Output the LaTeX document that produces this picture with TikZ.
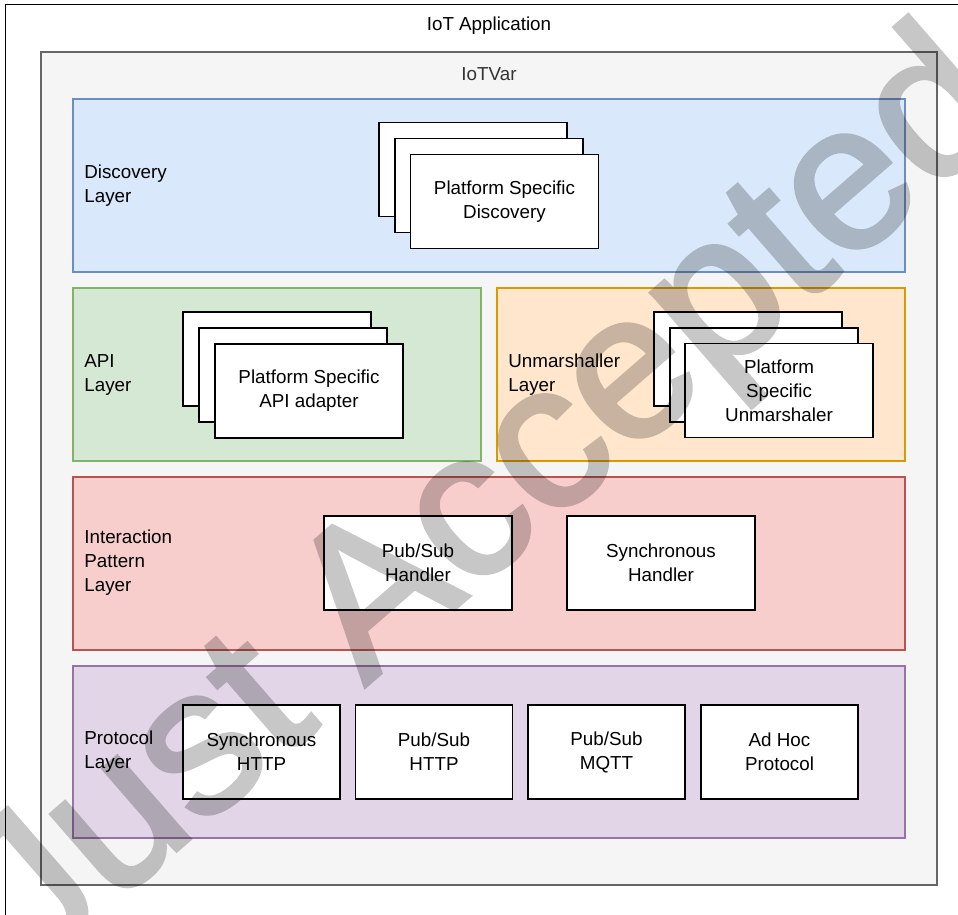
\documentclass[tikz,border=0pt]{standalone}
\usepackage{fontspec}
\setmainfont{Liberation Sans}
\definecolor{varfill}{HTML}{F5F5F5}
\definecolor{varline}{HTML}{666666}
\definecolor{discfill}{HTML}{DAE8FC}
\definecolor{discline}{HTML}{6C8EBF}
\definecolor{apifill}{HTML}{D5E8D4}
\definecolor{apiline}{HTML}{82B366}
\definecolor{unmfill}{HTML}{FFE6CC}
\definecolor{unmline}{HTML}{D79B00}
\definecolor{intfill}{HTML}{F8CECC}
\definecolor{intline}{HTML}{B85450}
\definecolor{profill}{HTML}{E1D5E7}
\definecolor{proline}{HTML}{9673A6}
\tikzset{
  layer/.style={line width=0.8pt, minimum height=173*\u},
  card/.style={draw=black, fill=white, line width=1.1pt, minimum width=188*\u, minimum height=94*\u, align=center},
  lbl/.style={anchor=west, align=left},
}

\begin{document}
\begin{tikzpicture}[x=0.02cm, y=-0.02cm, inner sep=0pt, font=\fontsize{10.7}{13.7}\selectfont]
\def\u{0.02cm}
\useasboundingbox (0,0) rectangle (958,914);
\clip (0,0) rectangle (958,914);
\node[draw, line width=0.8pt, minimum width=980*\u, minimum height=940*\u, anchor=north west] (app) at (5,4) {};
\node (applbl) at (489,26) {IoT Application};
\node[draw=varline, fill=varfill, line width=0.8pt, minimum width=896*\u, minimum height=833*\u] (var) at (489,468.5) {};
\node[text=black!80] (varlbl) at (489,74) {IoTVar};

\node[layer, draw=discline, fill=discfill, minimum width=832*\u] (disc) at (489,185.5) {};
\node[lbl] (disclbl) at (84,186) {Discovery\\Layer};
\node[card] (dcard1) at (473,169.5) {};
\node[card] (dcard2) at (489,185.5) {};
\node[card] (dcard3) at (504.5,201.5) {Platform Specific\\Discovery};

\node[layer, draw=apiline, fill=apifill, minimum width=408*\u] (api) at (277,374.5) {};
\node[lbl] (apilbl) at (84,375) {API\\Layer};
\node[card] (acard1) at (277,359) {};
\node[card] (acard2) at (293,375) {};
\node[card] (acard3) at (309,391) {Platform Specific\\API adapter};

\node[layer, draw=unmline, fill=unmfill, minimum width=408*\u] (unm) at (701,374.5) {};
\node[lbl] (unmlbl) at (508,375) {Unmarshaller\\Layer};
\node[card] (ucard1) at (748,359) {};
\node[card] (ucard2) at (764,375) {};
\node[card] (ucard3) at (779,390.5) {Platform\\Specific\\Unmarshaler};

\node[layer, draw=intline, fill=intfill, minimum width=832*\u] (int) at (489,563.5) {};
\node[lbl] (intlbl) at (84,563) {Interaction\\Pattern\\Layer};
\node[card] (pubsub) at (418,563) {Pub/Sub\\Handler};
\node[card] (sync) at (661,563) {Synchronous\\Handler};

\node[layer, draw=proline, fill=profill, minimum width=832*\u, minimum height=172*\u] (pro) at (489,752) {};
\node[lbl] (prolbl) at (84,752) {Protocol\\Layer};
\node[card, minimum width=157*\u] (synchttp) at (261.5,752) {Synchronous\\HTTP};
\node[card, minimum width=157*\u] (pshttp) at (434,752) {Pub/Sub\\HTTP};
\node[card, minimum width=157*\u] (psmqtt) at (606.5,752) {Pub/Sub\\MQTT};
\node[card, minimum width=157*\u] (adhoc) at (779.5,752) {Ad Hoc\\Protocol};

\begin{scope}[transparency group, opacity=0.22]
\node[rotate=41, font=\fontsize{118}{118}\selectfont\addfontfeatures{FakeBold=2}] (mark) at (491,506) {Just Accepted};
\end{scope}
\end{tikzpicture}
\end{document}
